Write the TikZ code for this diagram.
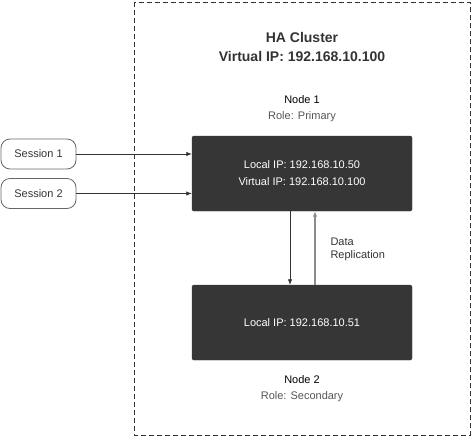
\documentclass[tikz,border=0pt]{standalone}
\usepackage{fontspec}
\setmainfont{Liberation Sans}
\usetikzlibrary{arrows.meta}
\definecolor{boxdark}{HTML}{363636}
\definecolor{inkdark}{HTML}{333333}
\definecolor{linegray}{HTML}{8C8C8C}
\definecolor{edgegray}{HTML}{666666}
\definecolor{rolegray}{HTML}{555555}
\tikzset{
  session/.style={draw=edgegray, rounded corners=9pt, minimum width=75pt, minimum height=30pt,
    inner sep=0pt, font=\fontsize{11}{13}\selectfont, text=inkdark, line width=0.8pt},
  hostbox/.style={fill=boxdark, draw=boxdark, rounded corners=1.5pt, minimum width=220pt, minimum height=75pt,
    inner sep=0pt, text=white, font=\fontsize{11}{17}\selectfont, align=center},
  label/.style={font=\fontsize{11}{16}\selectfont, text=black, align=center},
  link/.style={draw=inkdark, line width=0.8pt, -{Latex[length=5.5pt,width=4.5pt]}},
  replink/.style={draw=linegray, line width=1.2pt, -{Latex[length=5.5pt,width=4.5pt]}}
}
\begin{document}
\begin{tikzpicture}[x=1pt,y=-1pt]
  \useasboundingbox (0,0) rectangle (471,437);
  % cluster boundary
  \draw[inkdark, dashed, line width=0.7pt, dash pattern=on 5pt off 3pt] (134,2) rectangle (470,435);
  % headings
  \node[font=\bfseries\fontsize{14}{19}\selectfont, text=inkdark, align=center] (title) at (302,47)
    {HA Cluster\\Virtual IP: 192.168.10.100};
  \node[label] (n1lbl) at (302,109) {Node 1\\\textcolor{rolegray}{Role: Primary}};
  \node[label] (n2lbl) at (302,389) {Node 2\\\textcolor{rolegray}{Role: Secondary}};
  % hosts
  \node[hostbox] (node1) at (302,173.5) {Local IP: 192.168.10.50\\Virtual IP: 192.168.10.100};
  \node[hostbox] (node2) at (302,322.5) {Local IP: 192.168.10.51};
  % client sessions
  \node[session] (s1) at (38.5,154) {Session 1};
  \node[session] (s2) at (38.5,193.5) {Session 2};
  \draw[link] (s1.east) -- (s1.east -| node1.west);
  \draw[link] (s2.east) -- (s2.east -| node1.west);
  % replication between hosts
  \coordinate (dn) at (290,0);
  \coordinate (up) at (315,0);
  \draw[link] (dn |- node1.south) -- (dn |- node2.north);
  \draw[replink] (up |- node2.north) -- (up |- node1.south);
  \node[label, text=inkdark, align=left, anchor=west, font=\fontsize{11}{13}\selectfont] (rep) at (327,249) {Data\\Replication};
\end{tikzpicture}
\end{document}
